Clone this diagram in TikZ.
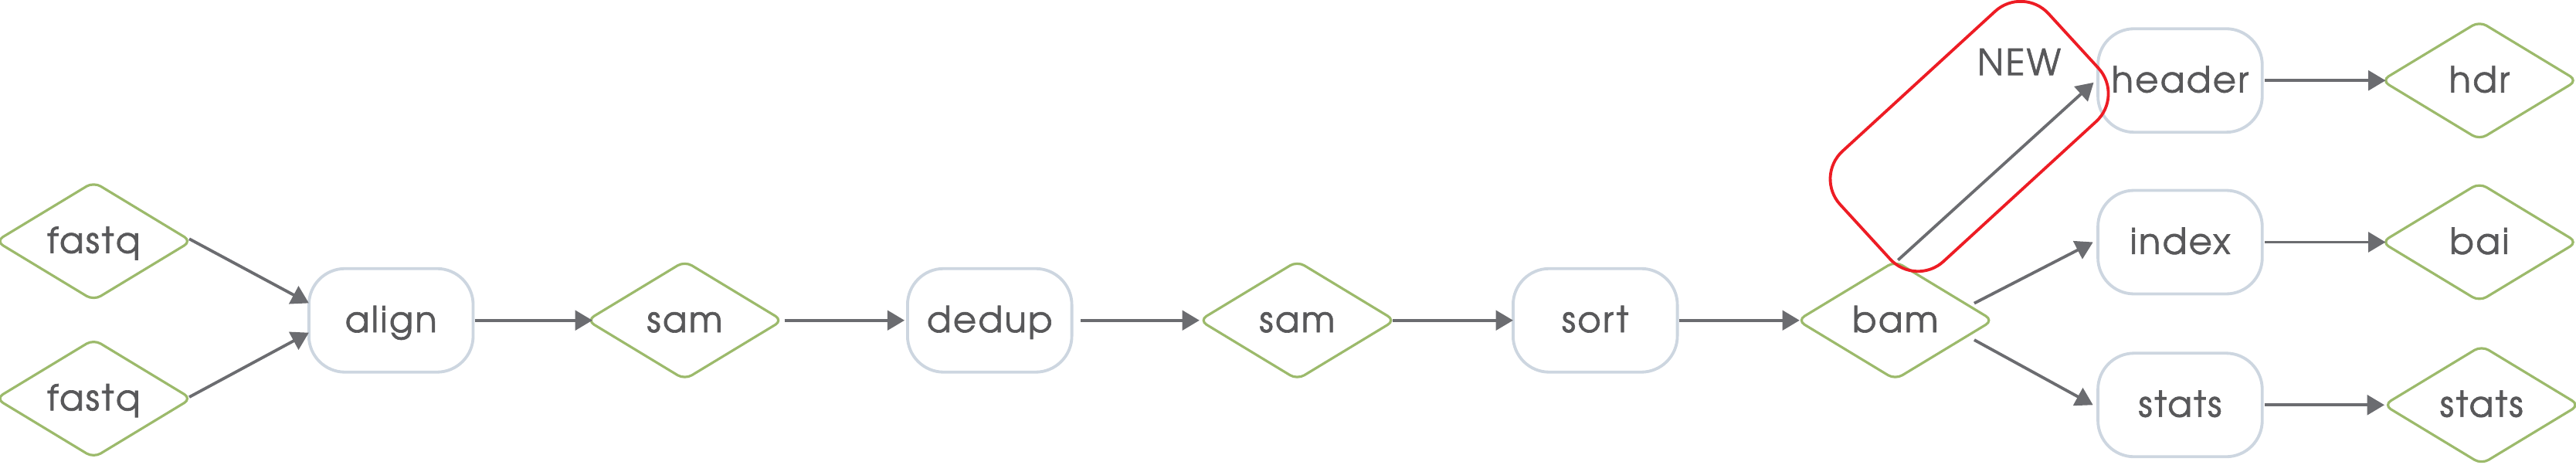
\documentclass[tikz,border=0pt]{standalone}
\usepackage{fontspec}
\setmainfont{texgyreadventor-regular.otf}[FakeBold=1.4,LetterSpace=5]
\usetikzlibrary{shapes.geometric,arrows.meta}
\definecolor{txt}{HTML}{58585A}
\definecolor{arr}{HTML}{6B6C70}
\definecolor{boxc}{HTML}{CDD6E0}
\definecolor{grn}{HTML}{9CBA6B}
\definecolor{rd}{HTML}{ED1C24}
\tikzset{
  lbl/.style={text=txt, font=\fontsize{21.8}{24}\selectfont, text height=16pt, text depth=1.6pt, inner sep=0pt, outer sep=0pt},
  proc/.style={lbl, rectangle, draw=boxc, line width=1.8pt, rounded corners=22pt, minimum width=100pt, minimum height=63pt},
  data/.style={lbl, diamond, draw=grn, line width=1.5pt, rounded corners=5pt, minimum width=119pt, minimum height=72pt, aspect=1.63},
  conn/.style={draw=arr, line width=1.8pt, -{Triangle[length=10.5pt,width=12pt]}},
  newbox/.style={rectangle, draw=rd, line width=1.8pt, rounded corners=23pt, minimum width=172pt, minimum height=91pt, inner sep=0pt}
}
\begin{document}
\begin{tikzpicture}[x=1pt,y=-1pt]
\useasboundingbox (0,0) rectangle (1568,283);
% nodes
\node[data] (fq1) at (57,146.8) {fastq};
\node[data] (fq2) at (57,242.6) {fastq};
\node[proc] (align) at (238,195) {align};
\node[data] (sam1) at (416.8,195) {sam};
\node[proc] (dedup) at (602.4,195) {dedup};
\node[data] (sam2) at (789.6,195) {sam};
\node[proc] (sort) at (971,195) {sort};
\node[data] (bam) at (1153.6,195) {bam};
\node[proc] (header) at (1327,49) {header};
\node[proc] (index) at (1327,147.4) {index};
\node[proc] (statsb) at (1327,246.5) {stats};
\node[data] (hdr) at (1509.2,49) {hdr};
\node[data] (bai) at (1509.2,147.4) {bai};
\node[data] (statsd) at (1510.5,246.5) {stats};
% new highlight
\node[newbox, rotate=42.5] (newbox) at (1198.7,83) {};
\node[lbl] (newlbl) at (1229,38.5) {NEW};
% connectors
\draw[conn] ([xshift=-1.3pt,yshift=1.4pt]fq1.east) -- ([yshift=10.5pt]align.west);
\draw[conn] ([xshift=-1.3pt,yshift=0.9pt]fq2.east) -- ([yshift=-7.5pt]align.west);
\draw[conn, shorten <=1pt, shorten >=-3.3pt] (align.east) -- (sam1.west);
\draw[conn, shorten <=1.2pt, shorten >=1.8pt] (sam1.east) -- (dedup.west);
\draw[conn, shorten <=5.5pt] (dedup.east) -- (sam2.west);
\draw[conn, shorten <=-1.3pt] (sam2.east) -- (sort.west);
\draw[conn, shorten <=1pt, shorten >=-1.3pt] (sort.east) -- (bam.west);
\draw[conn] ([xshift=1.7pt,yshift=0.7pt]bam.north) -- ([xshift=-2.6pt,yshift=-1.2pt]header.west);
\draw[conn] ([xshift=-11.4pt,yshift=10.4pt]bam.east) -- ([xshift=-3pt]index.west);
\draw[conn] ([xshift=-11.4pt,yshift=-11.9pt]bam.east) -- ([xshift=-3pt]statsb.west);
\draw[conn, shorten <=1.6pt, shorten >=-2.4pt] (header.east) -- (hdr.west);
\draw[conn, shorten <=1.6pt, shorten >=-2.4pt] (index.east) -- (bai.west);
\draw[conn, shorten <=1.6pt, shorten >=-0.4pt] (statsb.east) -- (statsd.west);
\end{tikzpicture}
\end{document}
